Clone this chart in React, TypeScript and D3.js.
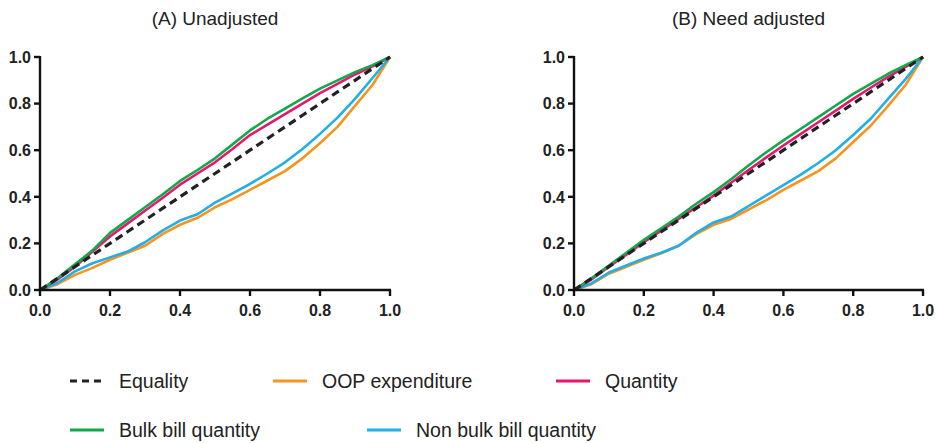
import React from "react";
import * as d3 from "d3";

const W = 937;
const H = 443;
const FONT = "'Liberation Sans', Arial, Helvetica, sans-serif";

// population share (x) shared by all curves
const xs = [0, 0.05, 0.1, 0.15, 0.2, 0.25, 0.3, 0.35, 0.4, 0.45, 0.5, 0.55, 0.6, 0.65, 0.7, 0.75, 0.8, 0.85, 0.9, 0.95, 1];

// (A) Unadjusted
const bulkA = [0, 0.05, 0.11, 0.17, 0.245, 0.3, 0.355, 0.41, 0.468, 0.515, 0.565, 0.625, 0.685, 0.735, 0.778, 0.822, 0.864, 0.9, 0.935, 0.965, 1];
const quantA = [0, 0.045, 0.1, 0.165, 0.23, 0.285, 0.34, 0.395, 0.452, 0.5, 0.548, 0.605, 0.665, 0.71, 0.755, 0.8, 0.845, 0.885, 0.925, 0.96, 1];
const nonBulkA = [0, 0.03, 0.08, 0.115, 0.14, 0.165, 0.205, 0.255, 0.298, 0.325, 0.375, 0.415, 0.455, 0.5, 0.548, 0.605, 0.67, 0.74, 0.82, 0.91, 1];
const oopA = [0, 0.025, 0.065, 0.095, 0.13, 0.16, 0.19, 0.24, 0.28, 0.31, 0.355, 0.39, 0.43, 0.47, 0.51, 0.565, 0.63, 0.7, 0.79, 0.88, 1];

// (B) Need adjusted
const bulkB = [0, 0.05, 0.105, 0.16, 0.215, 0.265, 0.315, 0.37, 0.42, 0.475, 0.534, 0.59, 0.642, 0.692, 0.742, 0.792, 0.842, 0.885, 0.928, 0.965, 1];
const quantB = [0, 0.045, 0.1, 0.152, 0.205, 0.255, 0.305, 0.355, 0.405, 0.46, 0.515, 0.568, 0.62, 0.67, 0.72, 0.77, 0.82, 0.868, 0.915, 0.958, 1];
const nonBulkB = [0, 0.028, 0.075, 0.105, 0.135, 0.16, 0.19, 0.245, 0.29, 0.315, 0.36, 0.405, 0.45, 0.495, 0.545, 0.6, 0.665, 0.735, 0.82, 0.905, 1];
const oopB = [0, 0.025, 0.07, 0.1, 0.13, 0.158, 0.19, 0.24, 0.28, 0.305, 0.345, 0.385, 0.43, 0.47, 0.51, 0.565, 0.635, 0.705, 0.79, 0.88, 1];

const ticks = [0, 0.2, 0.4, 0.6, 0.8, 1.0];

const COLORS = {
  oop: "#f7931e",
  quantity: "#e8166f",
  bulk: "#12a84b",
  nonBulk: "#22aee6",
  equality: "#222222",
};

type Panel = {
  title: string;
  left: number;
  right: number;
  oop: number[];
  quantity: number[];
  bulk: number[];
  nonBulk: number[];
};

const panels: Panel[] = [
  { title: "(A) Unadjusted", left: 40, right: 390, oop: oopA, quantity: quantA, bulk: bulkA, nonBulk: nonBulkA },
  { title: "(B) Need adjusted", left: 574, right: 923, oop: oopB, quantity: quantB, bulk: bulkB, nonBulk: nonBulkB },
];

const TOP = 57;
const BOTTOM = 290;

const ChartPanel = ({ p }: { p: Panel }) => {
  const x = d3.scaleLinear().domain([0, 1]).range([p.left, p.right]);
  const y = d3.scaleLinear().domain([0, 1]).range([BOTTOM, TOP]);
  const line = (vals: number[]) =>
    d3
      .line<number>()
      .x((_, i) => x(xs[i]))
      .y((d) => y(d))(vals) as string;

  const series = [
    { vals: p.oop, color: COLORS.oop },
    { vals: p.nonBulk, color: COLORS.nonBulk },
    { vals: p.quantity, color: COLORS.quantity },
    { vals: p.bulk, color: COLORS.bulk },
  ];

  return (
    <g>
      <text
        x={(p.left + p.right) / 2}
        y={25}
        textAnchor="middle"
        style={{ fontSize: 19, fontFamily: FONT }}
        fill="#222"
      >
        {p.title}
      </text>
      {series.map((s, i) => (
        <path key={i} d={line(s.vals)} fill="none" stroke={s.color} strokeWidth={2.6} strokeLinejoin="round" />
      ))}
      <path
        d={line(xs)}
        fill="none"
        stroke={COLORS.equality}
        strokeWidth={3.2}
        strokeDasharray="8,5"
      />
      {/* axes */}
      <line x1={p.left} y1={TOP - 1} x2={p.left} y2={BOTTOM + 1} stroke="#111" strokeWidth={2.4} />
      <line x1={p.left - 1} y1={BOTTOM} x2={p.right + 1} y2={BOTTOM} stroke="#111" strokeWidth={2.4} />
      {ticks.map((t) => (
        <g key={"y" + t}>
          <line x1={p.left - 6} y1={y(t)} x2={p.left} y2={y(t)} stroke="#111" strokeWidth={2.4} />
          <text
            x={p.left - 9}
            y={y(t)}
            dy="0.36em"
            textAnchor="end"
            style={{ fontSize: 16, fontWeight: "bold", fontFamily: FONT }}
            fill="#222"
          >
            {d3.format(".1f")(t)}
          </text>
        </g>
      ))}
      {ticks.map((t) => (
        <g key={"x" + t}>
          <line x1={x(t)} y1={BOTTOM} x2={x(t)} y2={BOTTOM + 6} stroke="#111" strokeWidth={2.4} />
          <text
            x={x(t)}
            y={BOTTOM + 26}
            textAnchor="middle"
            style={{ fontSize: 16, fontWeight: "bold", fontFamily: FONT }}
            fill="#222"
          >
            {d3.format(".1f")(t)}
          </text>
        </g>
      ))}
    </g>
  );
};

const legendItems = [
  { label: "Equality", color: COLORS.equality, dashed: true, x: 70, row: 0 },
  { label: "OOP expenditure", color: COLORS.oop, dashed: false, x: 273, row: 0 },
  { label: "Quantity", color: COLORS.quantity, dashed: false, x: 556, row: 0 },
  { label: "Bulk bill quantity", color: COLORS.bulk, dashed: false, x: 70, row: 1 },
  { label: "Non bulk bill quantity", color: COLORS.nonBulk, dashed: false, x: 367, row: 1 },
];

const App = () => {
  return (
    <svg width={W} height={H} style={{ display: "block", position: "absolute", left: 0, top: 0 }}>
      <rect width={W} height={H} fill="#fff" />
      {panels.map((p) => (
        <ChartPanel key={p.title} p={p} />
      ))}
      {legendItems.map((it) => {
        const cy = it.row === 0 ? 381 : 430;
        return (
          <g key={it.label}>
            <line
              x1={it.x}
              y1={cy}
              x2={it.x + 34}
              y2={cy}
              stroke={it.color}
              strokeWidth={3.2}
              strokeDasharray={it.dashed ? "7,5" : undefined}
            />
            <text
              x={it.x + 49}
              y={cy}
              dy="0.36em"
              style={{ fontSize: 19.5, fontFamily: FONT }}
              fill="#222"
            >
              {it.label}
            </text>
          </g>
        );
      })}
    </svg>
  );
};

export default App;
